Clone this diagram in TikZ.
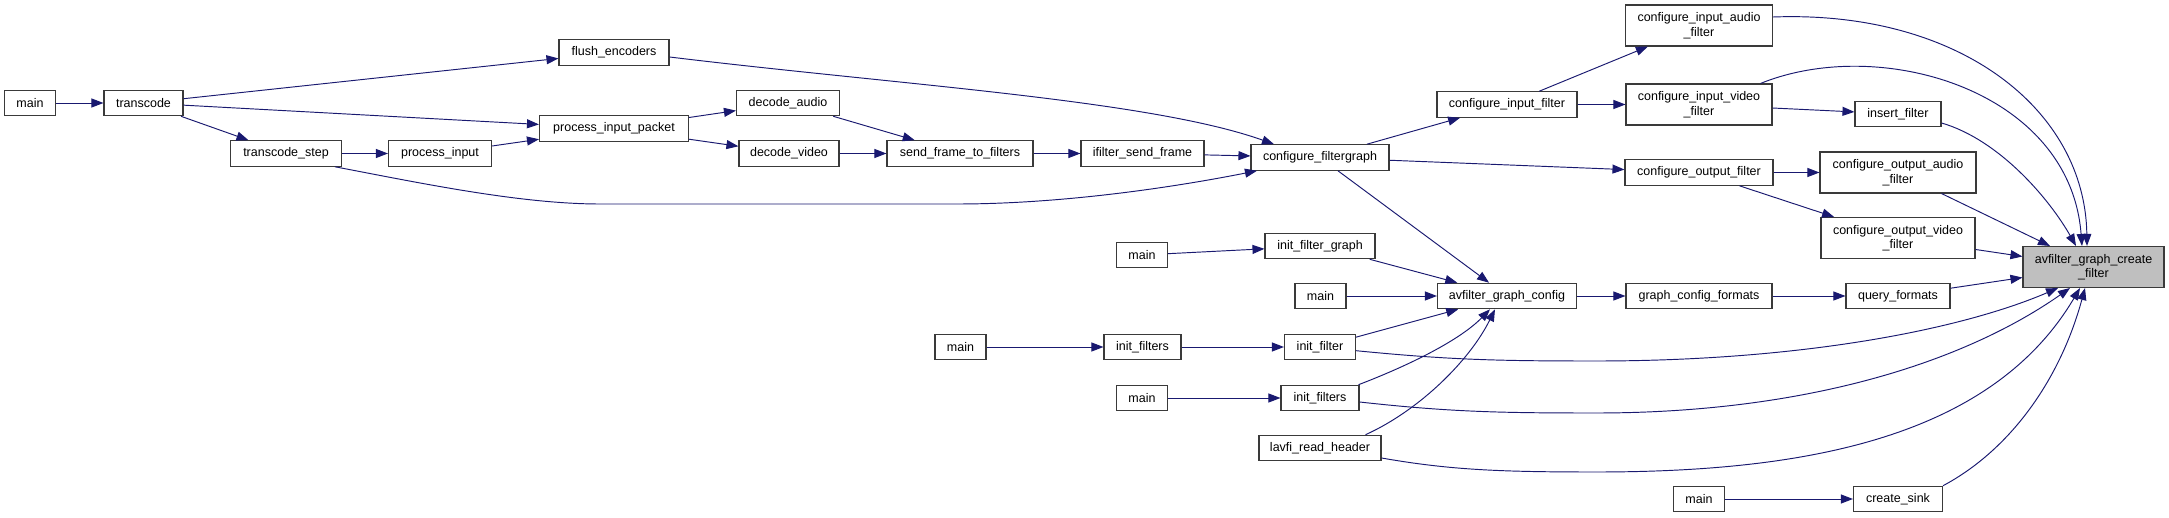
\documentclass[tikz,border=0pt]{standalone}
\usepackage{fontspec}
\setmainfont{Liberation Sans}
\usetikzlibrary{arrows.meta}
\definecolor{edgecol}{HTML}{191970}
\definecolor{boxborder}{HTML}{3A3A3A}
\definecolor{curfill}{HTML}{BFBFBF}
\tikzset{
  box/.style={draw=boxborder, line width=1.1pt, fill=white, inner sep=0pt,
    minimum height=25.5pt, align=center, font=\fontsize{12.5}{14.5}\selectfont},
  tall/.style={minimum height=41pt},
  cur/.style={fill=curfill},
  edge/.style={draw=edgecol, line width=0.95pt, -{Triangle[length=12pt,width=9pt]}},
}
\begin{document}
\begin{tikzpicture}[x=1pt,y=-1pt]
\useasboundingbox[fill=white] (0,0) rectangle (2169,518);
% nodes
\node[box, minimum width=51pt] (m1) at (30,103) {main};
\node[box, minimum width=79pt] (tc) at (143.5,103) {transcode};
\node[box, minimum width=110pt] (fe) at (614,52.5) {flush\_encoders};
\node[box, minimum width=149pt] (pip) at (614,128.5) {process\_input\_packet};
\node[box, minimum width=111pt] (ts) at (286,153.5) {transcode\_step};
\node[box, minimum width=103pt] (pi) at (440,153.5) {process\_input};
\node[box, minimum width=103pt] (da) at (788,103) {decode\_audio};
\node[box, minimum width=100pt] (dv) at (789,153.5) {decode\_video};
\node[box, minimum width=146pt] (sftf) at (960,153.5) {send\_frame\_to\_filters};
\node[box, minimum width=123pt] (isf) at (1142.5,153.5) {ifilter\_send\_frame};
\node[box, minimum width=138pt] (cfg) at (1320,157.5) {configure\_filtergraph};
\node[box, minimum width=110pt] (ifg) at (1320,246) {init\_filter\_graph};
\node[box, minimum width=51pt] (m2) at (1142,255) {main};
\node[box, minimum width=51pt] (m3) at (1320.5,296) {main};
\node[box, minimum width=51pt] (m4) at (960.5,347) {main};
\node[box, minimum width=77pt] (ifs1) at (1142.5,347) {init\_filters};
\node[box, minimum width=71pt] (ifl) at (1320,347) {init\_filter};
\node[box, minimum width=51pt] (m5) at (1142,398) {main};
\node[box, minimum width=78pt] (ifs2) at (1320,398) {init\_filters};
\node[box, minimum width=122pt] (lrh) at (1320,448) {lavfi\_read\_header};
\node[box, tall, minimum width=147pt] (ciaf) at (1699,25.5) {configure\_input\_audio\\\_filter};
\node[box, minimum width=140pt] (cif) at (1507,104.5) {configure\_input\_filter};
\node[box, tall, minimum width=146pt] (civf) at (1699,104.5) {configure\_input\_video\\\_filter};
\node[box, minimum width=86pt] (ins) at (1898,114) {insert\_filter};
\node[box, minimum width=148pt] (cof) at (1699,172.5) {configure\_output\_filter};
\node[box, tall, minimum width=156pt] (coaf) at (1898,172.5) {configure\_output\_audio\\\_filter};
\node[box, tall, minimum width=154pt] (covf) at (1898,238) {configure\_output\_video\\\_filter};
\node[box, tall, cur, minimum width=141pt] (agcf) at (2093.5,267) {avfilter\_graph\_create\\\_filter};
\node[box, minimum width=139pt] (agc) at (1507,296) {avfilter\_graph\_config};
\node[box, minimum width=146pt] (gcf) at (1699,296) {graph\_config\_formats};
\node[box, minimum width=104pt] (qf) at (1898,296) {query\_formats};
\node[box, minimum width=51pt] (m6) at (1699,499) {main};
\node[box, minimum width=89pt] (cs) at (1898,499) {create\_sink};
% edges
\draw[edge] (m1) -- (tc);
\draw[edge] (tc) -- (fe);
\draw[edge] (tc) -- (pip);
\draw[edge] (tc) -- (ts);
\draw[edge] (ts) -- (pi);
\draw[edge] (pi) -- (pip);
\draw[edge] ([xshift=-7pt]ts.south east) .. controls (420,183) and (520,204) .. (600,204)
  -- (957,204) .. controls (1060,204) and (1170,188) .. ([xshift=6.5pt]cfg.south west);
\draw[edge] ([yshift=-4.5pt]fe.east) .. controls (900,85) and (1150,100) .. ([xshift=-46pt]cfg.north);
\draw[edge] (pip) -- (da);
\draw[edge] (pip) -- (dv);
\draw[edge] (da) -- (sftf);
\draw[edge] (dv) -- (sftf);
\draw[edge] (sftf) -- (isf);
\draw[edge] (isf) -- (cfg);
\draw[edge] (cfg) -- (cif);
\draw[edge] (cfg) -- (cof);
\draw[edge] (cfg) -- (agc);
\draw[edge] (cif) -- (ciaf);
\draw[edge] (cif) -- (civf);
\draw[edge] (civf) -- (ins);
\draw[edge] (cof) -- (coaf);
\draw[edge] (cof) -- (covf);
\draw[edge] ([yshift=8.5pt]ciaf.east) .. controls (1960,10) and (2085,110) .. ([xshift=-6.5pt]agcf.north);
\draw[edge] ([xshift=-12pt]civf.north east) .. controls (1880,35) and (2070,90) .. ([xshift=-11.5pt]agcf.north);
\draw[edge] ([yshift=-9pt]ins.east) .. controls (2000,140) and (2050,200) .. ([xshift=-17.5pt]agcf.north);
\draw[edge] (coaf) -- (agcf);
\draw[edge] (covf) -- (agcf);
\draw[edge] (qf) -- (agcf);
\draw[edge] ([yshift=-3.7pt]ifl.east) .. controls (1450,360) and (1500,361) .. (1596,361)
  .. controls (1800,361) and (1960,330) .. ([xshift=-35.5pt]agcf.south);
\draw[edge] ([yshift=-4pt]ifs2.east) .. controls (1450,412) and (1500,413) .. (1596,413)
  .. controls (1800,413) and (1960,365) .. ([xshift=-23.5pt]agcf.south);
\draw[edge] ([yshift=-10pt]lrh.east) .. controls (1450,470) and (1500,472) .. (1596,472)
  .. controls (1800,472) and (1990,440) .. ([xshift=-13.5pt]agcf.south);
\draw[edge] (cs.north east) .. controls (2010,450) and (2060,380) .. ([xshift=-8.5pt]agcf.south);
\draw[edge] (m2) -- (ifg);
\draw[edge] (ifg) -- (agc);
\draw[edge] (m3) -- (agc);
\draw[edge] (ifl) -- (agc);
\draw[edge] ([xshift=-1pt]ifs2.north east) .. controls (1410,365) and (1460,340) .. ([xshift=-17pt]agc.south);
\draw[edge] ([xshift=-16pt]lrh.north east) .. controls (1420,410) and (1470,360) .. ([xshift=-12pt]agc.south);
\draw[edge] (agc) -- (gcf);
\draw[edge] (gcf) -- (qf);
\draw[edge] (m4) -- (ifs1);
\draw[edge] (ifs1) -- (ifl);
\draw[edge] (m5) -- (ifs2);
\draw[edge] (m6) -- (cs);
\end{tikzpicture}
\end{document}
